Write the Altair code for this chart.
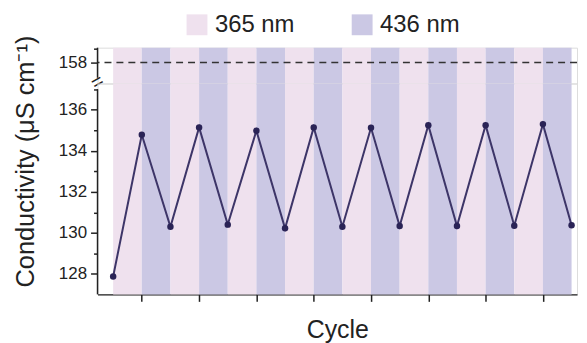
import altair as alt
import pandas as pd

# ---- data ----
step_index = list(range(17))
conductivity = [127.87, 134.78, 130.30, 135.14, 130.40, 134.98, 130.22, 135.14,
                130.30, 135.12, 130.33, 135.25, 130.33, 135.25, 130.35, 135.30, 130.37]
band_start = list(range(16))
band_end = [s + 1 for s in band_start]
band_label = ["365 nm" if s % 2 == 0 else "436 nm" for s in band_start]
legend_labels = ["365 nm", "436 nm"]
band_colors = ["#efe1ee", "#cbc8e4"]
reference_level = [158]
peak_ticks = [1, 3, 5, 7, 9, 11, 13, 15]
lower_ticks = [128, 129, 130, 131, 132, 133, 134, 135, 136, 137]
upper_ticks = [158, 158.7]
lower_axis_span = [127, 137]
upper_axis_span = [157.25, 158.73]
break_level = [157.02]

FONT = "Liberation Sans"
INK = "#222222"

pts = pd.DataFrame({"i": step_index, "value": conductivity})
bands = pd.DataFrame({"start": band_start, "end": band_end, "band": band_label})
ref = pd.DataFrame({"y": reference_level})
low_span = pd.DataFrame({"lo": [lower_axis_span[0]], "hi": [lower_axis_span[1]]})
up_span = pd.DataFrame({"lo": [upper_axis_span[0]], "hi": [upper_axis_span[1]]})
brk = pd.DataFrame({"y": break_level})

xscale = alt.Scale(domain=[-0.545, 16.19], nice=False, zero=False)
y_low_scale = alt.Scale(domain=[127, 137.28], nice=False, zero=False)
y_up_scale = alt.Scale(domain=[156.97, 158.73], nice=False, zero=False)

tick_size = {"condition": {"test": "datum.value % 2 === 0", "value": 7}, "value": 4}
label_expr = "datum.value % 2 === 0 ? datum.label : ''"

y_low_axis = alt.Axis(values=lower_ticks, title="Conductivity (μS cm⁻¹)", titleFontSize=25.5,
                      titleFont=FONT, titleFontWeight="normal", titleColor=INK, titlePadding=20,
                      titleY=78, labelExpr=label_expr, labelFontSize=17, labelFont=FONT,
                      labelColor=INK, labelPadding=4, tickSize=tick_size, tickWidth=1.5,
                      tickColor=INK, domain=False, grid=False)
y_up_axis = alt.Axis(values=upper_ticks, title=None, labelExpr=label_expr, labelFontSize=17,
                     labelFont=FONT, labelColor=INK, labelPadding=4, tickSize=tick_size,
                     tickWidth=1.5, tickColor=INK, domain=False, grid=False)
x_axis = alt.Axis(values=peak_ticks, labels=False, tickSize=7, tickWidth=1.5, tickColor=INK,
                  domainColor=INK, domainWidth=1.5, grid=False, title="Cycle",
                  titleFontSize=25, titleFont=FONT, titleFontWeight="normal", titleColor=INK,
                  titlePadding=16)

color = alt.Color("band:N", scale=alt.Scale(domain=legend_labels, range=band_colors),
                  legend=alt.Legend(title=None, orient="none", legendX=88, legendY=-35,
                                    direction="horizontal", symbolType="square",
                                    symbolSize=440, symbolStrokeWidth=0, labelFontSize=24,
                                    labelFont=FONT, labelColor=INK, labelOffset=6,
                                    columnPadding=55, padding=0))

def band_layer(axis):
    return alt.Chart(bands).mark_rect().encode(
        x=alt.X("start:Q", scale=xscale, axis=axis), x2="end:Q", color=color)

# ---- upper panel (broken-axis segment around 158) ----
upper = alt.layer(
    band_layer(None),
    alt.Chart(ref).mark_rule(color="#333333", strokeWidth=1.5, strokeDash=[7, 5]).encode(
        y=alt.Y("y:Q", scale=y_up_scale, axis=y_up_axis)),
    alt.Chart(up_span).mark_rule(color=INK, strokeWidth=1.5).encode(
        x=alt.value(0), y=alt.Y("lo:Q", scale=y_up_scale, axis=y_up_axis), y2="hi:Q"),
    alt.Chart(brk).mark_text(text="=", fontSize=20, angle=330, color=INK, font=FONT).encode(
        x=alt.value(0), y=alt.Y("y:Q", scale=y_up_scale, axis=y_up_axis)),
).properties(width=482, height=36)

# ---- lower panel ----
lower = alt.layer(
    band_layer(x_axis),
    alt.Chart(low_span).mark_rule(color=INK, strokeWidth=1.5).encode(
        x=alt.value(0), y=alt.Y("lo:Q", scale=y_low_scale, axis=y_low_axis), y2="hi:Q"),
    alt.Chart(pts).mark_line(color="#3d3568", strokeWidth=2).encode(
        x=alt.X("i:Q", scale=xscale, axis=x_axis),
        y=alt.Y("value:Q", scale=y_low_scale, axis=y_low_axis)),
    alt.Chart(pts).mark_circle(color="#2a2356", size=42, opacity=1).encode(
        x=alt.X("i:Q", scale=xscale, axis=x_axis),
        y=alt.Y("value:Q", scale=y_low_scale, axis=y_low_axis)),
).properties(width=482, height=212)

chart = alt.vconcat(upper, lower, spacing=0, bounds="flush").properties(
    padding={"left": 5, "top": 4, "right": 0, "bottom": 0}
).configure_view(stroke=None).configure(background="white")

chart.save("out.html", embed_options={"renderer": "svg", "actions": False})
